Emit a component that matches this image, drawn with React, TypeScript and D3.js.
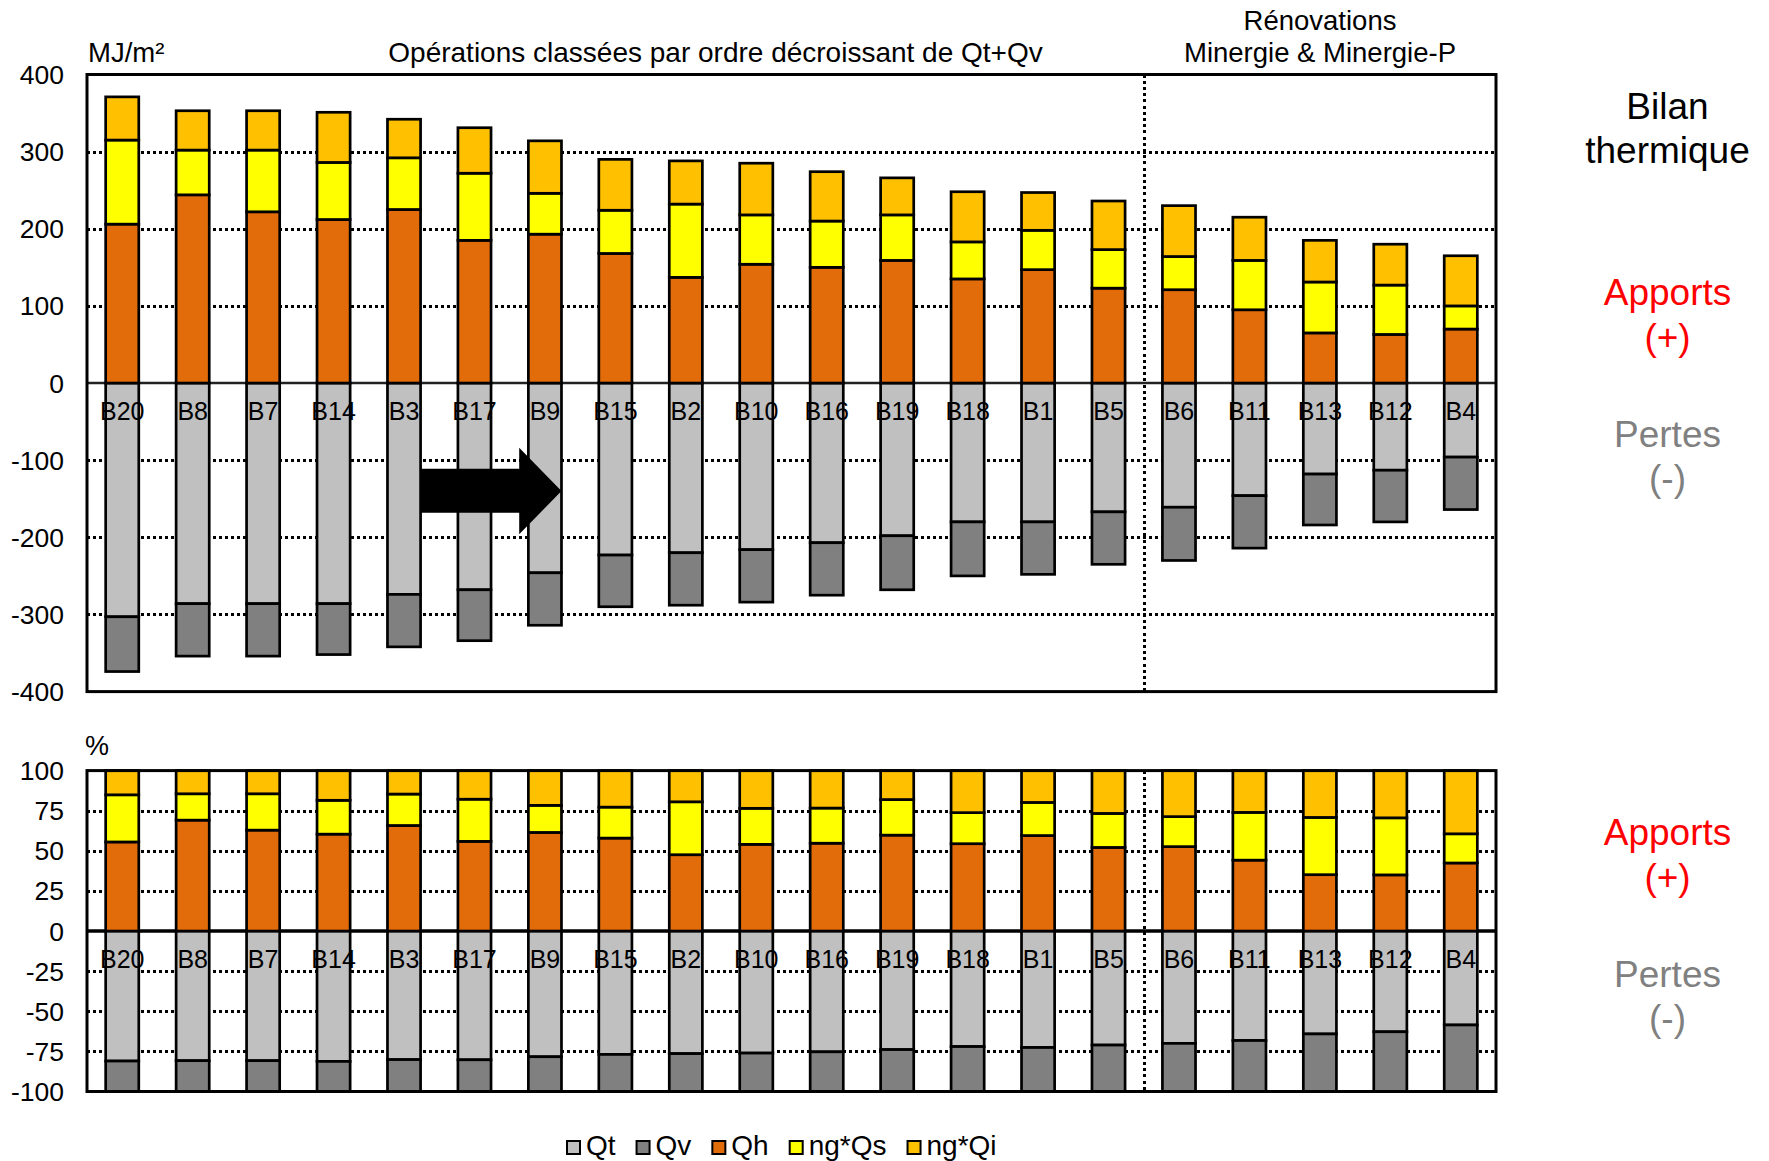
import React, { useEffect, useRef } from "react";
import * as d3 from "d3";

// ---------- DATA ----------
const categories = ["B20","B8","B7","B14","B3","B17","B9","B15","B2","B10","B16","B19","B18","B1","B5","B6","B11","B13","B12","B4"];
// MJ/m² values (losses shown as negative)
const Qt = [303,286,286,286,274,268,246,223,220,216,207,198,180,180,167,161,146,118,113,96];
const Qv = [71,68,68,66,68,66,68,67,68,68,68,70,70,68,68,69,68,66,67,68];
const Qh = [206,244,222,212,225,185,193,168,137,154,150,159,135,147,123,121,95,65,63,70];
const ngQs = [109,58,80,74,67,87,53,56,95,64,60,59,48,51,50,43,64,66,64,30];
const ngQi = [56,51,51,65,50,59,68,66,56,67,64,48,65,49,63,66,56,54,53,65];

const seriesKeys = ["Qt","Qv","Qh","ngQs","ngQi"];
const seriesLabels = ["Qt","Qv","Qh","ng*Qs","ng*Qi"];
const seriesColors = ["#C0C0C0","#808080","#E36C0A","#FFFF00","#FFC000"];

const topTicks = [400,300,200,100,0,-100,-200,-300,-400];
const botTicks = [100,75,50,25,0,-25,-50,-75,-100];
const renovationStart = "B6";

// arrow annotation (value space on the MJ/m² panel)
const arrowFrom = "B3";
const arrowTo = "B9";
const arrowBody = [-111, -168];
const arrowHead = [-84, -196];

const FONT = "'Liberation Sans', Arial, Helvetica, sans-serif";

export default function App() {
  const ref = useRef<SVGSVGElement>(null);

  useEffect(() => {
    const svg = d3.select(ref.current);
    svg.selectAll("*").remove();
    svg.append("rect").attr("width", 1769).attr("height", 1161).attr("fill", "#fff");

    const plotLeft = 87, plotRight = 1496;
    const x = d3.scaleBand<string>().domain(categories).range([plotLeft, plotRight]).paddingInner(0.53).paddingOuter(0.265);
    const bw = x.bandwidth();

    const rowsMJ = categories.map((c, i) => ({
      cat: c, Qt: -Qt[i], Qv: -Qv[i], Qh: Qh[i], ngQs: ngQs[i], ngQi: ngQi[i],
    }));
    const rowsPct = categories.map((c, i) => {
      const pos = Qh[i] + ngQs[i] + ngQi[i];
      const neg = Qt[i] + Qv[i];
      return {
        cat: c,
        Qt: -Qt[i] / neg * 100, Qv: -Qv[i] / neg * 100,
        Qh: Qh[i] / pos * 100, ngQs: ngQs[i] / pos * 100, ngQi: ngQi[i] / pos * 100,
      };
    });

    const yTop = d3.scaleLinear().domain([-400, 400]).range([691.6, 74.5]);
    const yBot = d3.scaleLinear().domain([-100, 100]).range([1091.5, 770.6]);

    const sepX = Math.round((x(renovationStart) as number) - (x.step() - bw) / 2);

    function drawPanel(rows: any[], y: d3.ScaleLinear<number, number>, ticks: number[], labelBaseline: number, zeroW: number, zeroColor: string) {
      const g = svg.append("g");
      const [d0, d1] = y.domain();
      const grid = ticks.filter(t => t !== 0 && t !== d0 && t !== d1);
      g.selectAll("line.grid").data(grid).join("line")
        .attr("x1", plotLeft).attr("x2", plotRight)
        .attr("y1", d => Math.round(y(d)) + 0.5).attr("y2", d => Math.round(y(d)) + 0.5)
        .attr("stroke", "#000").attr("stroke-width", 3).attr("stroke-dasharray", "3 3")
        .attr("shape-rendering", "crispEdges");
      g.append("line").attr("x1", sepX + 0.5).attr("x2", sepX + 0.5)
        .attr("y1", y(d1)).attr("y2", y(d0))
        .attr("stroke", "#000").attr("stroke-width", 3).attr("stroke-dasharray", "3 3.2")
        .attr("shape-rendering", "crispEdges");
      g.append("line").attr("x1", plotLeft).attr("x2", plotRight)
        .attr("y1", y(0)).attr("y2", y(0)).attr("stroke", zeroColor).attr("stroke-width", zeroW);

      const stacked = d3.stack<any>().keys(seriesKeys).offset(d3.stackOffsetDiverging)(rows);
      stacked.forEach((s, si) => {
        g.append("g").selectAll("rect").data(s).join("rect")
          .attr("x", d => x(d.data.cat) as number)
          .attr("width", bw)
          .attr("y", d => y(Math.max(d[0], d[1])))
          .attr("height", d => Math.abs(y(d[0]) - y(d[1])))
          .attr("fill", seriesColors[si])
          .attr("stroke", "#000").attr("stroke-width", 2.7);
      });

      g.append("rect").attr("x", plotLeft).attr("y", y(d1))
        .attr("width", plotRight - plotLeft).attr("height", y(d0) - y(d1))
        .attr("fill", "none").attr("stroke", "#000").attr("stroke-width", 3);

      g.selectAll("text.tick").data(ticks).join("text")
        .attr("x", 64).attr("y", d => y(d)).attr("dy", "0.36em")
        .attr("text-anchor", "end").attr("font-family", FONT).attr("font-size", 26.5)
        .attr("fill", "#000").text(d => String(d));

      g.selectAll("text.cat").data(categories).join("text")
        .attr("x", d => (x(d) as number) + bw / 2).attr("y", labelBaseline)
        .attr("text-anchor", "middle").attr("font-family", FONT).attr("font-size", 25)
        .attr("fill", "#000").text(d => d);
      return g;
    }

    const gTop = drawPanel(rowsMJ, yTop, topTicks, 420, 2.5, "#222");
    drawPanel(rowsPct, yBot, botTicks, 968, 3.5, "#000");

    // Arrow annotation
    const ax0 = (x(arrowFrom) as number) + bw;
    const axTip = (x(arrowTo) as number) + bw;
    const axHead = axTip - 0.6 * x.step();
    const aMid = (yTop(arrowHead[0]) + yTop(arrowHead[1])) / 2;
    const pts: [number, number][] = [
      [ax0, yTop(arrowBody[0])], [axHead, yTop(arrowBody[0])], [axHead, yTop(arrowHead[0])],
      [axTip, aMid], [axHead, yTop(arrowHead[1])], [axHead, yTop(arrowBody[1])], [ax0, yTop(arrowBody[1])],
    ];
    gTop.append("polygon").attr("points", pts.map(p => p.join(",")).join(" ")).attr("fill", "#000");

    const txt = (s: string, xx: number, yy: number, size: number, color = "#000", anchor = "middle") =>
      svg.append("text").attr("x", xx).attr("y", yy).attr("font-family", FONT).attr("font-size", size)
        .attr("fill", color).attr("text-anchor", anchor).text(s);

    txt("MJ/m²", 88, 62, 27.5, "#000", "start");
    txt("Opérations classées par ordre décroissant de Qt+Qv", 715.5, 62, 28);
    txt("Rénovations", 1320, 30, 27.5);
    txt("Minergie & Minergie-P", 1320, 62, 27.5);
    txt("%", 85, 755, 27, "#000", "start");

    const rx = 1667.5;
    txt("Bilan", rx, 119, 37);
    txt("thermique", rx, 163, 37);
    txt("Apports", rx, 305, 37, "#FF0000");
    txt("(+)", rx, 350, 37, "#FF0000");
    txt("Pertes", rx, 447, 37, "#808080");
    txt("(-)", rx, 491, 37, "#808080");
    txt("Apports", rx, 845, 37, "#FF0000");
    txt("(+)", rx, 890, 37, "#FF0000");
    txt("Pertes", rx, 987, 37, "#808080");
    txt("(-)", rx, 1031, 37, "#808080");

    // Legend
    let lx = 567;
    const ly = 1155;
    seriesLabels.forEach((lab, i) => {
      svg.append("rect").attr("x", lx).attr("y", ly - 14).attr("width", 13).attr("height", 13)
        .attr("fill", seriesColors[i]).attr("stroke", "#000").attr("stroke-width", 2);
      const t = svg.append("text").attr("x", lx + 19).attr("y", ly).attr("font-family", FONT)
        .attr("font-size", 28).attr("fill", "#000").text(lab);
      const w = (t.node() as SVGTextElement).getComputedTextLength();
      lx = lx + 19 + w + 21;
    });
  }, []);

  return (
    <svg ref={ref} width={1769} height={1161}
      style={{ position: "absolute", left: 0, top: 0, display: "block" }} />
  );
}
